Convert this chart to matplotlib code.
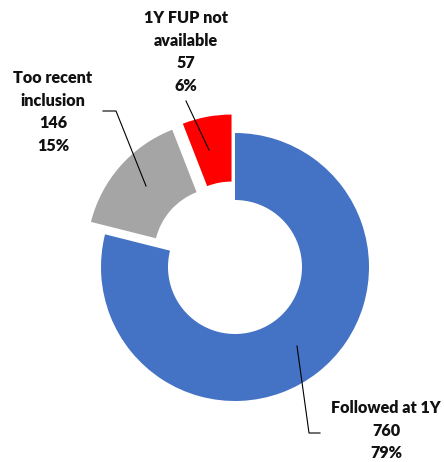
import matplotlib
matplotlib.use("Agg")
import matplotlib.pyplot as plt

# Patient follow-up status at one year
categories = ["Followed at 1Y", "Too recent\ninclusion", "1Y FUP not\navailable"]
counts = [760, 146, 57]
colors = ["#4472C4", "#A5A5A5", "#FF0000"]
explode_frac = [0.0, 0.14, 0.14]

W, H = 444, 462
fig = plt.figure(figsize=(W / 100, H / 100), dpi=100)
ax = fig.add_axes([0, 0, 1, 1])

cx, cy, R = 235, H - 267, 134
ax.pie(counts, colors=colors, startangle=90, counterclock=False,
       explode=[f * R for f in explode_frac], center=(cx, cy), radius=R,
       wedgeprops=dict(width=R * 0.5, linewidth=0))

ax.set_xlim(0, W)
ax.set_ylim(0, H)
ax.set_aspect("equal")
ax.axis("off")

total = sum(counts)
font = dict(family=["Lato", "DejaVu Sans"], fontweight="heavy", fontsize=11.6,
            color="#111111")
pitch = 22.6

# label block centre x, first-line centre y (pixel rows from top)
label_pos = [(386, 408), (53, 78), (186, 18)]
for name, n, (lx, ly) in zip(categories, counts, label_pos):
    lines = name.split("\n") + [str(n), f"{round(100 * n / total)}%"]
    for i, s in enumerate(lines):
        ax.text(lx, H - (ly + i * pitch), s, ha="center", va="center", **font)

# leader lines from labels into the slices
leaders = [
    [(297, 346), (309, 433), (320, 433)],
    [(146, 186), (116, 111), (103, 111)],
    [(209, 150), (186, 101)],
]
for pts in leaders:
    xs = [p[0] for p in pts]
    ys = [H - p[1] for p in pts]
    ax.plot(xs, ys, color="black", linewidth=0.8)

fig.savefig("out.png", dpi=100)
